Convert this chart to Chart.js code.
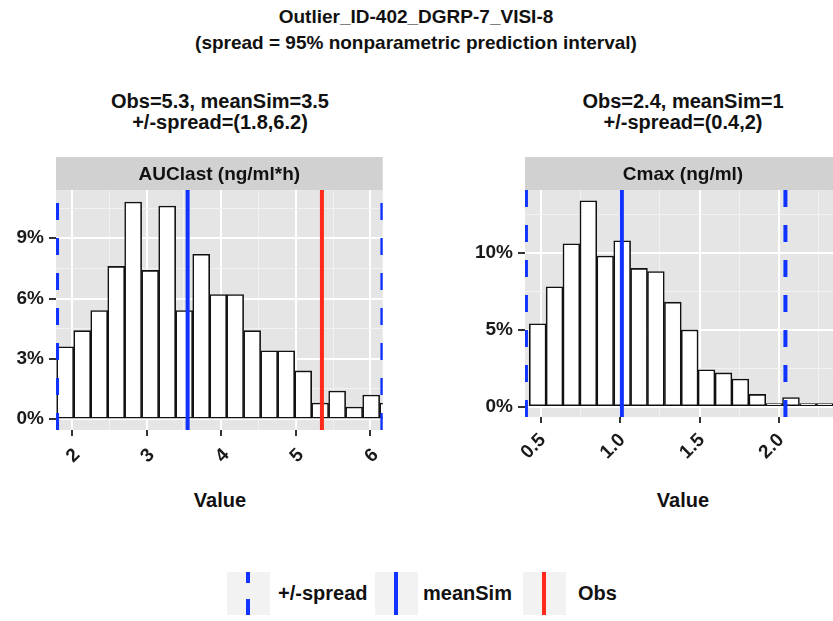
<!DOCTYPE html>
<html>
<head>
<meta charset="utf-8">
<script src="https://cdn.jsdelivr.net/npm/chart.js@4.4.1/dist/chart.umd.min.js"></script>
<style>
  html, body { margin: 0; padding: 0; background: #fff; }
  body {
    width: 833px; height: 621px; overflow: hidden; position: relative;
    font-family: 'Liberation Sans', Arial, sans-serif; font-weight: bold; color: #111;
  }
  .txt { position: absolute; white-space: nowrap; transform: translateX(-50%); text-align: center; }
  canvas { position: absolute; }
  .key { position: absolute; top: 572px; width: 43px; height: 43px; background: #f2f2f2; }
  .key i { position: absolute; left: 19px; top: 0; width: 4px; height: 43px; }
  .lab { position: absolute; top: 572px; line-height: 43px; font-size: 20px; white-space: nowrap; }
</style>
</head>
<body>
<div class="txt" style="left:416px; top:4px; font-size:19px; line-height:26px;">Outlier_ID-402_DGRP-7_VISI-8<br>(spread = 95% nonparametric prediction interval)</div>
<div class="txt" style="left:220px; top:91px; font-size:20px; line-height:21px;">Obs=5.3, meanSim=3.5<br>+/-spread=(1.8,6.2)</div>
<div class="txt" style="left:683px; top:91px; font-size:20px; line-height:21px;">Obs=2.4, meanSim=1<br>+/-spread=(0.4,2)</div>

<canvas id="auc" width="395" height="330" style="left:0; top:150px;"></canvas>
<canvas id="cmax" width="410" height="330" style="left:440px; top:150px;"></canvas>

<div class="txt" style="left:220px; top:488px; font-size:20px; line-height:24px;">Value</div>
<div class="txt" style="left:683px; top:488px; font-size:20px; line-height:24px;">Value</div>

<div class="key" style="left:227px;"><i style="background:repeating-linear-gradient(to top, #1133ff 0 16px, transparent 16px 32px);"></i></div>
<div class="lab" style="left:278px;">+/-spread</div>
<div class="key" style="left:375px;"><i style="background:#1133ff;"></i></div>
<div class="lab" style="left:423px;">meanSim</div>
<div class="key" style="left:523px;"><i style="background:#ff2a1a;"></i></div>
<div class="lab" style="left:578px;">Obs</div>

<script>
// 左图 AUClast：直方图区间中点与百分比
const aucBins = [1.909, 2.137, 2.365, 2.593, 2.820, 3.048, 3.276, 3.504, 3.732, 3.960,
                 4.187, 4.415, 4.643, 4.871, 5.099, 5.326, 5.554, 5.782, 6.010, 6.238];
const aucPct = [3.6, 4.4, 5.4, 7.6, 10.8, 7.4, 10.6, 5.4, 8.2, 6.2,
                6.2, 4.4, 3.4, 3.4, 2.4, 0.8, 1.4, 0.6, 1.2, 0.8];
const aucSpread = [1.8, 6.16];
const aucMean = 3.55;
const aucObs = 5.35;
const aucXRange = [1.786, 6.165];
const aucYRange = [-0.54, 11.4];
const aucXMajor = [2, 3, 4, 5, 6];
const aucXMinor = [2.5, 3.5, 4.5, 5.5];
const aucXLabels = ['2', '3', '4', '5', '6'];
const aucYMajor = [0, 3, 6, 9];
const aucYMinor = [1.5, 4.5, 7.5, 10.5];
const aucYLabels = ['0%', '3%', '6%', '9%'];

// 右图 Cmax
const cmaxBins = [0.480, 0.586, 0.692, 0.799, 0.905, 1.012, 1.118, 1.224, 1.331, 1.437,
                  1.543, 1.650, 1.756, 1.863, 1.969, 2.075, 2.182, 2.288, 2.394];
const cmaxPct = [5.4, 7.8, 10.6, 13.4, 9.8, 10.8, 9.0, 8.8, 6.8, 5.0,
                 2.4, 2.2, 1.8, 0.8, 0.2, 0.6, 0.2, 0.2, 0.2];
const cmaxSpread = [0.406, 2.04];
const cmaxMean = 1.01;
const cmaxObs = 2.4;
const cmaxXRange = [0.4, 2.39];
const cmaxYRange = [-0.67, 14.1];
const cmaxXMajor = [0.5, 1.0, 1.5, 2.0];
const cmaxXMinor = [0.75, 1.25, 1.75, 2.25];
const cmaxXLabels = ['0.5', '1.0', '1.5', '2.0'];
const cmaxYMajor = [0, 5, 10];
const cmaxYMinor = [2.5, 7.5, 12.5];
const cmaxYLabels = ['0%', '5%', '10%'];

const FONT = "'Liberation Sans', Arial, sans-serif";
const BLUE = '#1133ff';
const RED = '#ff2a1a';

// 灰色面板背景 + 顶部标题条
const panelBg = {
  id: 'panelBg',
  beforeDraw(chart, args, opts) {
    const { ctx, chartArea: a } = chart;
    ctx.save();
    ctx.fillStyle = '#e5e5e5';
    ctx.fillRect(a.left, a.top, a.right - a.left, a.bottom - a.top);
    ctx.fillStyle = '#d1d1d1';
    ctx.fillRect(a.left, a.top - 33, a.right - a.left, 33);
    ctx.fillStyle = '#111';
    ctx.font = 'bold 19px ' + FONT;
    ctx.textAlign = 'center';
    ctx.textBaseline = 'middle';
    ctx.fillText(opts.strip, (a.left + a.right) / 2, a.top - 15);
    ctx.restore();
  }
};

function vline(x, yRange, color, dash) {
  return {
    type: 'line',
    data: [{ x, y: yRange[0] }, { x, y: yRange[1] }],
    borderColor: color,
    borderWidth: 4,
    borderDash: dash || [],
    pointRadius: 0,
    order: 1
  };
}

function axis(range, major, minor, labels, o) {
  const isMajor = v => major.indexOf(v) >= 0;
  return {
    type: 'linear',
    min: range[0],
    max: range[1],
    offset: false,
    afterBuildTicks: s => {
      s.ticks = major.concat(minor).sort((a, b) => a - b).map(v => ({ value: v }));
    },
    afterFit: s => {
      if (o.width) s.width = o.width;
      if (o.height) s.height = o.height;
    },
    ticks: {
      autoSkip: false,
      minRotation: o.rot || 0,
      maxRotation: o.rot || 0,
      padding: o.pad,
      labelOffset: o.shift || 0,
      color: '#1a1a1a',
      font: { family: FONT, size: 19, weight: 'bold' },
      callback: v => isMajor(v) ? labels[major.indexOf(v)] : ''
    },
    grid: {
      offset: false,
      color: c => (c.tick && isMajor(c.tick.value)) ? '#ffffff' : '#f2f2f2',
      lineWidth: c => (c.tick && isMajor(c.tick.value)) ? 2 : 1,
      drawTicks: true,
      tickLength: o.tick,
      tickColor: c => (c.tick && isMajor(c.tick.value)) ? '#333' : 'rgba(0,0,0,0)',
      tickWidth: 2
    },
    border: { display: false }
  };
}

function renderPanel(canvasId, p) {
  const ctx = document.getElementById(canvasId);
  if (!ctx) return null;

  const datasets = [
    vline(p.spread[0], p.yRange, BLUE, [17, 18]),
    vline(p.spread[1], p.yRange, BLUE, [17, 18]),
    vline(p.mean, p.yRange, BLUE),
    vline(p.obs, p.yRange, RED),
    {
      type: 'bar',
      data: p.bins.map((x, i) => ({ x, y: p.pct[i] })),
      backgroundColor: '#ffffff',
      borderColor: '#111111',
      borderWidth: 1.6,
      borderSkipped: false,
      barPercentage: 1,
      categoryPercentage: 1,
      order: 2
    }
  ];

  return new Chart(ctx, {
    type: 'bar',
    data: { datasets },
    options: {
      responsive: false,
      animation: false,
      layout: { padding: { top: 40, right: p.padRight, left: 0, bottom: 0 } },
      scales: {
        x: axis(p.xRange, p.xMajor, p.xMinor, p.xLabels,
          { height: p.xHeight, rot: 45, pad: p.xPad, shift: p.xShift, tick: 6 }),
        y: axis(p.yRange, p.yMajor, p.yMinor, p.yLabels, { width: p.yWidth, pad: 5, tick: 7 })
      },
      plugins: {
        legend: { display: false },
        tooltip: { enabled: false },
        panelBg: { strip: p.strip }
      }
    },
    plugins: [panelBg]
  });
}

renderPanel('auc', {
  strip: 'AUClast (ng/ml*h)',
  bins: aucBins, pct: aucPct,
  spread: aucSpread, mean: aucMean, obs: aucObs,
  xRange: aucXRange, yRange: aucYRange,
  xMajor: aucXMajor, xMinor: aucXMinor, xLabels: aucXLabels,
  yMajor: aucYMajor, yMinor: aucYMinor, yLabels: aucYLabels,
  yWidth: 56, xHeight: 50, padRight: 12, xPad: 8, xShift: 5
});

renderPanel('cmax', {
  strip: 'Cmax (ng/ml)',
  bins: cmaxBins, pct: cmaxPct,
  spread: cmaxSpread, mean: cmaxMean, obs: cmaxObs,
  xRange: cmaxXRange, yRange: cmaxYRange,
  xMajor: cmaxXMajor, xMinor: cmaxXMinor, xLabels: cmaxXLabels,
  yMajor: cmaxYMajor, yMinor: cmaxYMinor, yLabels: cmaxYLabels,
  yWidth: 85, xHeight: 63, padRight: 9, xPad: 6, xShift: 2
});
</script>
</body>
</html>
